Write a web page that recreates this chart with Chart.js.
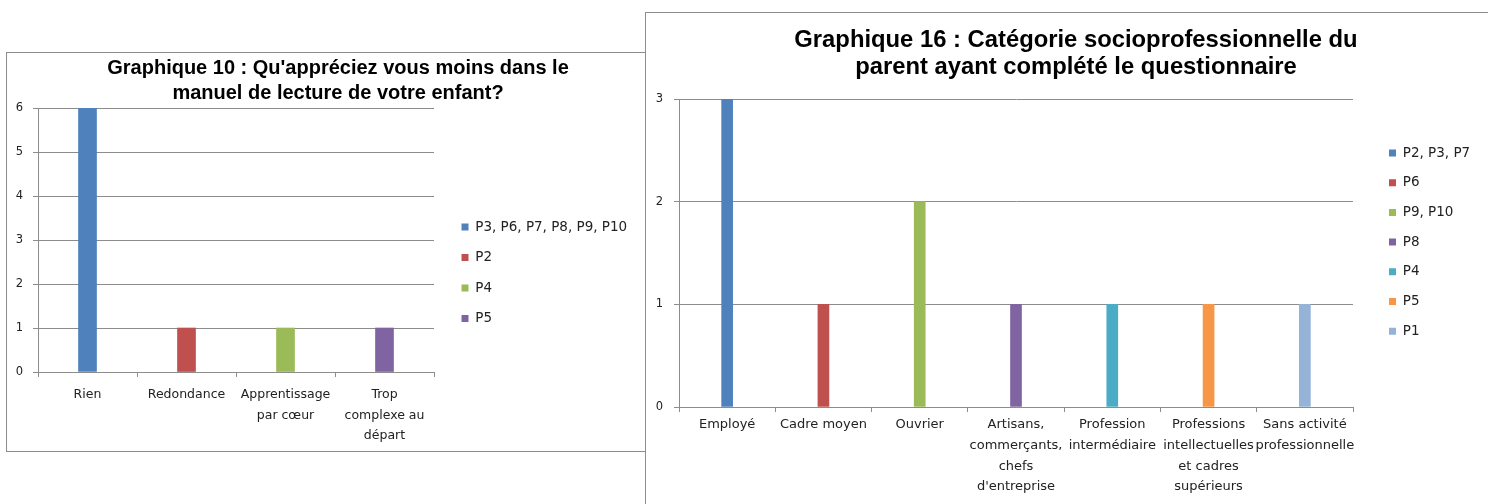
<!DOCTYPE html>
<html lang="fr">
<head>
<meta charset="utf-8">
<title>Graphiques 10 et 16</title>
<script src="https://cdn.jsdelivr.net/npm/chart.js@4.4.1/dist/chart.umd.min.js"></script>
<style>
  html, body { margin: 0; padding: 0; background: #fff; }
  body { width: 1488px; height: 504px; position: relative; overflow: hidden; }
  .frame { position: absolute; box-sizing: border-box; border: 0 solid #8d8d8d; }
  #frame10 { left: 6px; top: 52px; width: 640px; height: 400px; border-width: 1px 0 1px 1px; }
  #frame16 { left: 645px; top: 12px; width: 860px; height: 510px; border-width: 1px 0 0 1px; }
  canvas { position: absolute; }
  #chart10 { left: 7px; top: 53px; }
  #chart16 { left: 646px; top: 13px; }
</style>
</head>
<body>
<div class="frame" id="frame10"></div>
<div class="frame" id="frame16"></div>
<canvas id="chart10" width="637" height="397"></canvas>
<canvas id="chart16" width="842" height="491"></canvas>

<script>
// ---- Graphique 10 : what parents like least in the reading textbook ----
const title10 = ["Graphique 10 : Qu'appréciez vous moins dans le", 'manuel de lecture de votre enfant?'];
const categories10 = ['Rien', 'Redondance', ['Apprentissage', 'par cœur'], ['Trop', 'complexe au', 'départ']];
const series10 = ['P3, P6, P7, P8, P9, P10', 'P2', 'P4', 'P5'];
const values10 = [
  [6, null, null, null],
  [null, 1, null, null],
  [null, null, 1, null],
  [null, null, null, 1]
];
const yRange10 = [0, 6];

// ---- Graphique 16 : socio-professional category of the responding parent ----
const title16 = ['Graphique 16 : Catégorie socioprofessionnelle du', 'parent ayant complété le questionnaire'];
const categories16 = [
  'Employé', 'Cadre moyen', 'Ouvrier',
  ['Artisans,', 'commerçants,', 'chefs', "d'entreprise"],
  ['Profession', 'intermédiaire'],
  ['Professions', 'intellectuelles', 'et cadres', 'supérieurs'],
  ['Sans activité', 'professionnelle']
];
const series16 = ['P2, P3, P7', 'P6', 'P9, P10', 'P8', 'P4', 'P5', 'P1'];
const values16 = [
  [3, null, null, null, null, null, null],
  [null, 1, null, null, null, null, null],
  [null, null, 2, null, null, null, null],
  [null, null, null, 1, null, null, null],
  [null, null, null, null, 1, null, null],
  [null, null, null, null, null, 1, null],
  [null, null, null, null, null, null, 1]
];
const yRange16 = [0, 3];

// ---- styling ----
const PALETTE = ['#4F81BD', '#C0504D', '#9BBB59', '#8064A2', '#4BACC6', '#F79646', '#95B3D7'];
const GRID = '#8c8c8c';
const TEXT = '#222222';
const LABEL_FONT = "'DejaVu Sans', sans-serif";
const TITLE_FONT = "'Liberation Sans', Arial, sans-serif";

// Puts the title on its own centre line and the legend column where wanted.
const placeBlocks = {
  id: 'placeBlocks',
  afterLayout(chart, args, o) {
    const t = chart.titleBlock;
    if (t) { t.left = o.titleX - 430; t.right = o.titleX + 430; }
    const lg = chart.legend;
    if (lg) {
      lg.left = o.legendX - o.legendPad;
      lg.right = lg.left + 300;
      lg.width = 300;
      lg.top = o.legendY - o.legendPad - o.legendFont / 2;
    }
  }
};

function barChart(canvasId, c) {
  const datasets = c.series.map((name, i) => ({
    label: name,
    data: c.values[i],
    backgroundColor: PALETTE[i],
    borderWidth: 0,
    barThickness: c.barThickness,
    skipNull: true
  }));

  const chart = new Chart(document.getElementById(canvasId), {
    type: 'bar',
    data: { labels: c.categories, datasets },
    plugins: [placeBlocks],
    options: {
      responsive: false,
      animation: false,
      events: [],
      layout: { padding: { left: 0, top: 0, right: 0, bottom: 0 } },
      scales: {
        x: {
          afterFit: s => { s.height = c.xAxisHeight; },
          grid: { offset: true, drawOnChartArea: false, drawTicks: true, tickLength: 5, color: GRID, lineWidth: 1 },
          border: { display: true, color: GRID, width: 1 },
          ticks: {
            color: TEXT, padding: c.xPad, maxRotation: 0, minRotation: 0, autoSkip: false,
            font: { family: LABEL_FONT, size: c.xFont, lineHeight: c.xLine }
          }
        },
        y: {
          min: c.yRange[0], max: c.yRange[1],
          afterFit: s => { s.width = c.yAxisWidth; },
          grid: { color: GRID, lineWidth: 1, drawTicks: true, tickLength: 5 },
          border: { display: true, color: GRID, width: 1 },
          ticks: {
            stepSize: 1, color: TEXT, padding: c.yPad,
            font: { family: LABEL_FONT, size: c.yFont }
          }
        }
      },
      plugins: {
        title: {
          display: true,
          text: c.title,
          color: '#000',
          font: { family: TITLE_FONT, size: c.titleFont, weight: 'bold', lineHeight: c.titleLine },
          padding: { top: c.titlePadTop, bottom: c.titlePadBottom }
        },
        legend: {
          position: 'right',
          align: 'start',
          maxWidth: 400,
          labels: {
            boxWidth: 7, boxHeight: 7,
            padding: c.legendPad,
            color: TEXT,
            font: { family: LABEL_FONT, size: c.legendFont }
          }
        },
        tooltip: { enabled: false },
        placeBlocks: {
          titleX: c.titleX, legendX: c.legendX, legendY: c.legendY,
          legendPad: c.legendPad, legendFont: c.legendFont
        }
      }
    }
  });

  // The plot's right edge depends on the legend width; settle it on the wanted edge.
  for (let pass = 0; pass < 4; pass++) {
    const dx = chart.chartArea.right - c.plotRight;
    if (Math.abs(dx) < 0.25) break;
    chart.config.options.layout.padding.right += dx;
    chart.update();
  }
  return chart;
}

barChart('chart10', {
  title: title10, categories: categories10, series: series10, values: values10, yRange: yRange10,
  barThickness: 18,
  yAxisWidth: 31, plotRight: 427, xAxisHeight: 78,
  titleFont: 20, titleLine: 1.25, titlePadTop: 2.5, titlePadBottom: 2.5, titleX: 331,
  xFont: 12.5, xLine: 1.64, xPad: 7.75,
  yFont: 11.5, yPad: 10,
  legendFont: 13.5, legendPad: 17, legendX: 454.5, legendY: 174
});

barChart('chart16', {
  title: title16, categories: categories16, series: series16, values: values16, yRange: yRange16,
  barThickness: 11,
  yAxisWidth: 33, plotRight: 707, xAxisHeight: 97,
  titleFont: 23.8, titleLine: 27 / 23.8, titlePadTop: 13.5, titlePadBottom: 18.5, titleX: 430,
  xFont: 13, xLine: 1.59, xPad: 2.65,
  yFont: 11.5, yPad: 11,
  legendFont: 13.5, legendPad: 16.2, legendX: 743, legendY: 140
});
</script>
</body>
</html>
